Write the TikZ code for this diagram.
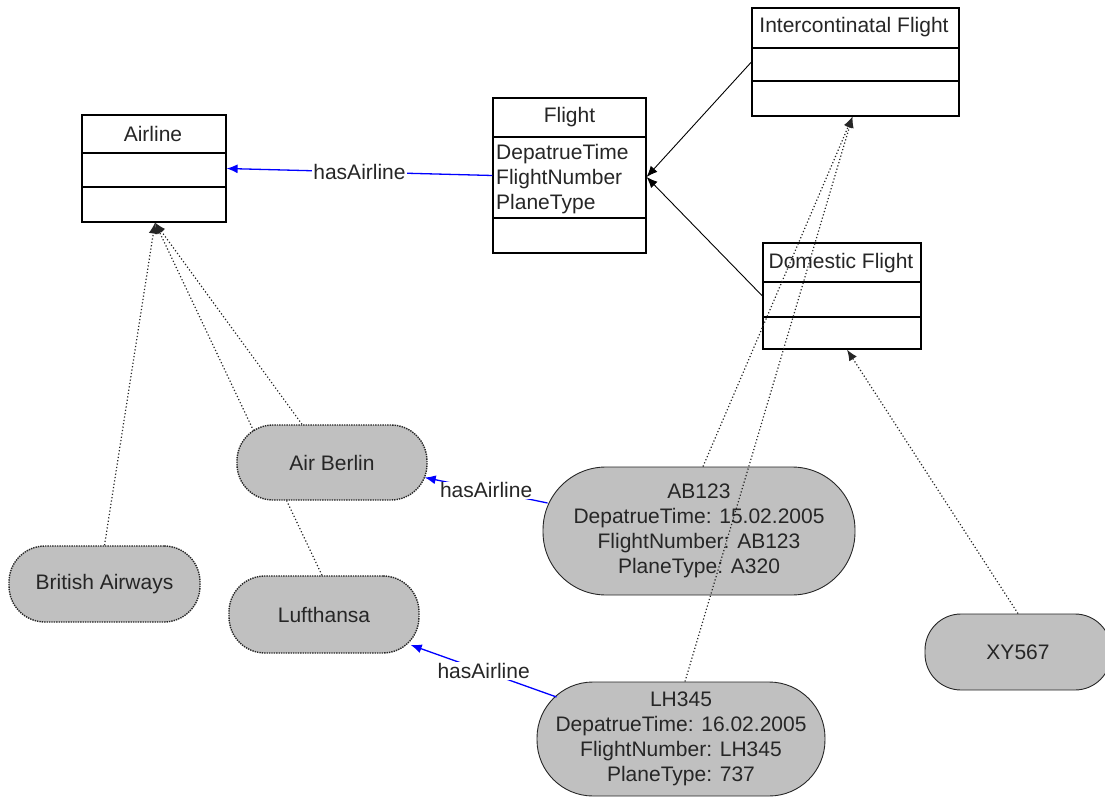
\documentclass[tikz,border=0pt]{standalone}
\usepackage{fontspec}
\setmainfont{Liberation Sans}
\usetikzlibrary{arrows.meta,calc}
\pgfdeclarelayer{bg}
\pgfsetlayers{bg,main}
\definecolor{pillgray}{HTML}{C0C0C0}
\definecolor{txt}{HTML}{262626}
\tikzset{
  every node/.style={text=txt},
  cls/.style={draw=black, line width=1.2pt, fill=white, inner sep=0pt},
  ttl/.style={inner sep=0pt},
  pill/.style={fill=pillgray, inner sep=0pt, align=center},
  pilldot/.style={pill, draw=black!85, line width=1.4pt, dash pattern=on 1.4pt off 1pt},
  pillsolid/.style={pill, draw=black!85, line width=0.9pt},
  tip/.style={-{Latex[length=11pt,width=9pt]}},
  gen/.style={tip, draw=black, line width=0.9pt},
  inst/.style={tip, draw=black!85, line width=1.2pt, dash pattern=on 1.2pt off 2.2pt},
  rel/.style={tip, draw=blue, line width=1.3pt},
  rlab/.style={fill=white, inner sep=1pt}
}
\begin{document}
\begin{tikzpicture}[x=1pt,y=-1pt,font=\fontsize{21}{25}\selectfont]
\useasboundingbox (0,0) rectangle (1105,799);

% class boxes
\node[cls, minimum width=144pt, minimum height=107pt] (airline) at (154,168.5) {};
\draw[line width=1.2pt] (82,153) -- (226,153) (82,187) -- (226,187);
\node[ttl] (airlinet) at (153,134) {Airline};

\node[cls, minimum width=153pt, minimum height=155pt] (flight) at (569.5,175.5) {};
\draw[line width=1.2pt] (493,137) -- (646,137) (493,218) -- (646,218);
\node[ttl] (flightt) at (569.5,117.5) {Flight};
\node[ttl, anchor=north west, align=left] (flighta) at (496,144.5) {DepatrueTime\\FlightNumber\\PlaneType};

\node[cls, minimum width=207pt, minimum height=108pt] (ic) at (855.5,62) {};
\draw[line width=1.2pt] (752,48) -- (959,48) (752,81) -- (959,81);
\node[ttl] (ict) at (854,27.5) {Intercontinatal Flight};

\node[cls, minimum width=158pt, minimum height=106pt] (dom) at (842,296) {};
\draw[line width=1.2pt] (763,282) -- (921,282) (763,317) -- (921,317);
\node[ttl] (domt) at (841,263) {Domestic Flight};

% instances
\node[pilldot, minimum width=190pt, minimum height=75pt, rounded corners=36pt] (berlin) at (332,462.5) {Air Berlin};
\node[pilldot, minimum width=191pt, minimum height=76pt, rounded corners=36pt] (ba) at (104.5,584) {British Airways};
\node[pilldot, minimum width=190pt, minimum height=77pt, rounded corners=36pt] (lh) at (324,614.5) {Lufthansa};
\node[pillsolid, minimum width=312pt, minimum height=128pt, rounded corners=63pt] (ab123) at (699,531) {AB123\\DepatrueTime: 15.02.2005\\FlightNumber: AB123\\PlaneType: A320};
\node[pillsolid, minimum width=288pt, minimum height=114pt, rounded corners=56pt] (lh345) at (681,739) {LH345\\DepatrueTime: 16.02.2005\\FlightNumber: LH345\\PlaneType: 737};
\node[pillsolid, minimum width=186pt, minimum height=76pt, rounded corners=36pt] (xy) at (1018,652) {XY567};

% generalisation
\draw[gen] (ic.west) -- ($(flight.east)+(0,1.5)$);
\draw[gen] (dom.west) -- ($(flight.east)+(0,1.5)$);

% instance-of
\draw[inst] (ba.north) -- ($(airline.south)+(1,0)$);
\draw[inst] ($(berlin.north)+(-30,0)$) -- ($(airline.south)+(1,0)$);
\begin{pgfonlayer}{bg}
\draw[inst] ($(lh.north)+(-2,0)$) -- ($(airline.south)+(1,0)$);
\end{pgfonlayer}
\draw[inst] ($(ab123.north)+(4,0)$) -- ($(ic.south)+(-3,0)$);
\draw[inst] ($(lh345.north)+(4,0)$) -- ($(ic.south)+(-3,0)$);
\draw[inst] (xy.north) -- ($(dom.south)+(5,0)$);

% hasAirline
\draw[rel] (flight.west) -- node[rlab] (r1) {hasAirline} (airline.east);
\draw[rel] ($(ab123.west)+(5,-28)$) -- node[rlab] (r2) {hasAirline} ($(berlin.east)+(-3,15)$);
\draw[rel] ($(lh345.west)+(20,-42)$) -- node[rlab] (r3) {hasAirline} ($(lh.east)+(-9,30.5)$);
\end{tikzpicture}
\end{document}
